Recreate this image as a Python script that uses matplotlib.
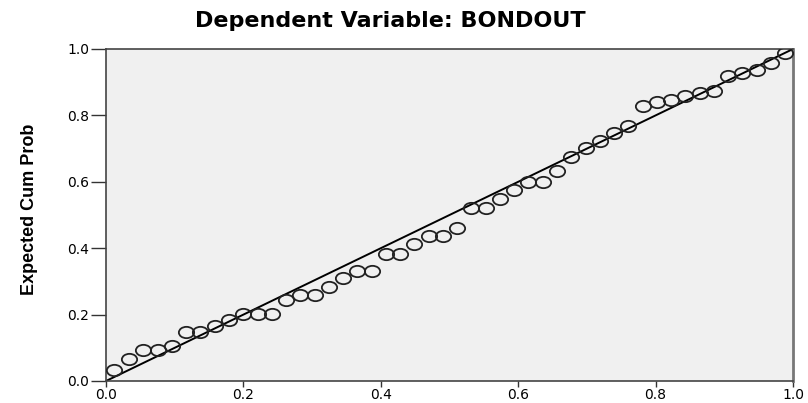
import matplotlib
matplotlib.use("Agg")
import matplotlib.pyplot as plt
import numpy as np
from matplotlib.path import Path

title = "Dependent Variable: BONDOUT"
ylabel = "Expected Cum Prob"
ticks = [0.0, 0.2, 0.4, 0.6, 0.8, 1.0]
tick_labels = ["0.0", "0.2", "0.4", "0.6", "0.8", "1.0"]

observed = [0.012, 0.033, 0.054, 0.076, 0.096, 0.116, 0.137, 0.159, 0.179, 0.199,
            0.221, 0.242, 0.262, 0.282, 0.304, 0.325, 0.345, 0.365, 0.387, 0.408,
            0.428, 0.448, 0.470, 0.491, 0.511, 0.531, 0.553, 0.574, 0.594, 0.614,
            0.636, 0.656, 0.677, 0.699, 0.719, 0.739, 0.760, 0.782, 0.802, 0.822,
            0.843, 0.865, 0.885, 0.905, 0.926, 0.948, 0.968, 0.988]
expected = [0.033, 0.066, 0.093, 0.093, 0.105, 0.148, 0.148, 0.166, 0.184, 0.202,
            0.202, 0.202, 0.244, 0.259, 0.259, 0.283, 0.310, 0.331, 0.331, 0.383,
            0.383, 0.413, 0.437, 0.437, 0.461, 0.521, 0.521, 0.548, 0.575, 0.599,
            0.599, 0.633, 0.675, 0.702, 0.723, 0.747, 0.768, 0.828, 0.840, 0.846,
            0.858, 0.867, 0.873, 0.919, 0.928, 0.937, 0.958, 0.988]

fig = plt.figure(figsize=(8.08, 4.03), dpi=100)
ax = fig.add_axes([106/808, 1-381/403, (793-106)/808, (381-49)/403])
ax.set_facecolor("#f0f0f0")

ax.plot([0, 1], [0, 1], color="black", lw=1.4, zorder=2)

circ = Path.unit_circle()
ell = Path(circ.vertices * np.array([1.35, 1.0]), circ.codes)
ax.plot(observed, expected, linestyle="none", marker=ell, markersize=11,
        markerfacecolor="none", markeredgecolor="#222222", markeredgewidth=1.3, zorder=3)

ax.set_xlim(0, 1)
ax.set_ylim(0, 1)
ax.set_xticks(ticks)
ax.set_xticklabels(tick_labels)
ax.set_yticks(ticks)
ax.set_yticklabels(tick_labels)
for s in ax.spines.values():
    s.set_color("#444444")
    s.set_linewidth(1.2)
ax.spines["right"].set_color("#777777")
ax.spines["right"].set_linewidth(2)
ax.tick_params(direction="out", width=1, colors="#333333",
               labelsize=10, labelcolor="black")
ax.tick_params(axis="x", length=4, pad=1)
ax.tick_params(axis="y", length=11, pad=1)
for lab in ax.get_xticklabels() + ax.get_yticklabels():
    lab.set_family(["DejaVu Sans"])

ax.set_ylabel(ylabel, fontsize=13, fontweight="bold",
              family=["Liberation Sans Narrow", "Liberation Sans", "DejaVu Sans"])
ax.yaxis.set_label_coords(-0.099, 0.518)
fig.text(390/808, 1-27/403, title, ha="center", va="baseline", fontsize=16,
         fontweight="bold", family=["DejaVu Sans"])

fig.savefig("out.png", dpi=100, facecolor="white")
